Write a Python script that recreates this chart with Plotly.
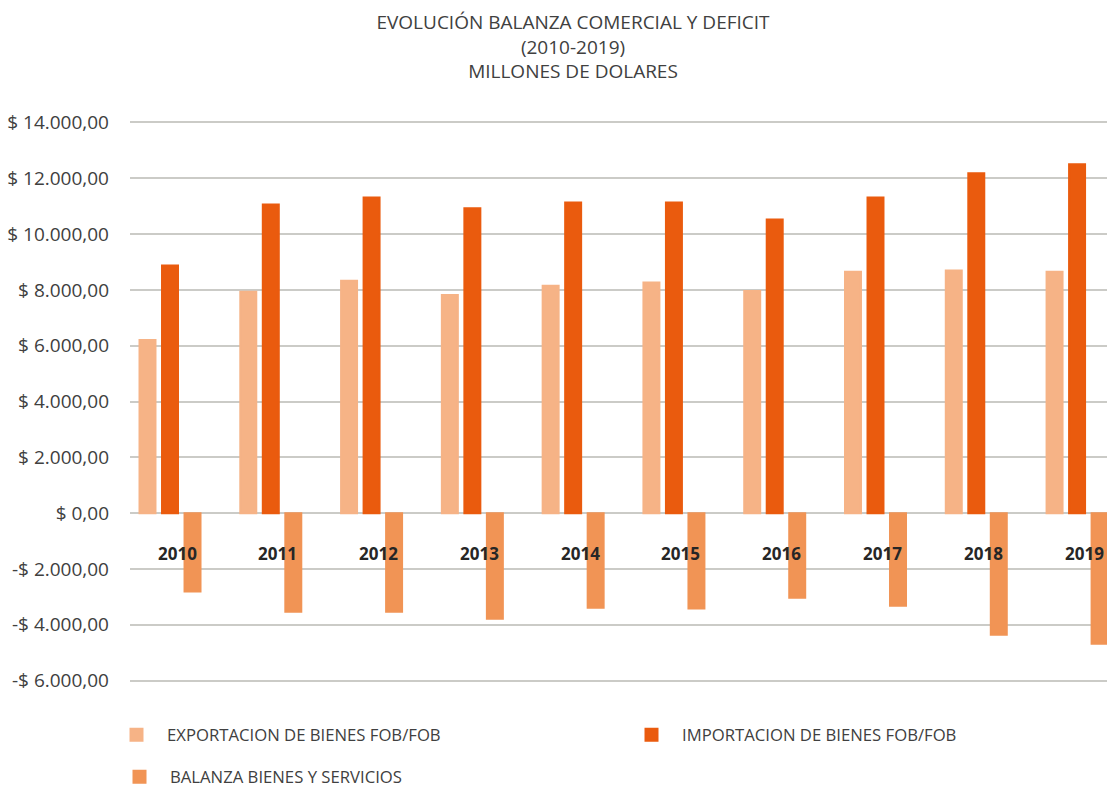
import plotly.graph_objects as go

# Trade balance, millions of US dollars
years = ["2010", "2011", "2012", "2013", "2014", "2015", "2016", "2017", "2018", "2019"]
exportaciones = [6200, 7930, 8330, 7820, 8150, 8260, 7960, 8650, 8690, 8650]
importaciones = [8870, 11060, 11310, 10920, 11130, 11130, 10520, 11310, 12180, 12500]
balanza = [-2810, -3530, -3530, -3780, -3390, -3420, -3030, -3320, -4360, -4680]

y_ticks = [-6000, -4000, -2000, 0, 2000, 4000, 6000, 8000, 10000, 12000, 14000]
y_tick_text = ["-$ 6.000,00", "-$ 4.000,00", "-$ 2.000,00", "$ 0,00", "$ 2.000,00",
               "$ 4.000,00", "$ 6.000,00", "$ 8.000,00", "$ 10.000,00", "$ 12.000,00",
               "$ 14.000,00"]

FONT = "Open Sans"
TEXT = "#404040"
GRID = "#CBCBC7"
C_EXP = "#F6B386"
C_IMP = "#EA5B0E"
C_BAL = "#F19455"

fig = go.Figure()
for vals, name, color, leg in [
    (exportaciones, "EXPORTACION DE BIENES FOB/FOB", C_EXP, "legend"),
    (importaciones, "IMPORTACION DE BIENES FOB/FOB", C_IMP, "legend3"),
    (balanza, "BALANZA BIENES Y SERVICIOS", C_BAL, "legend2"),
]:
    fig.add_trace(go.Bar(x=years, y=vals, name=name, legend=leg,
                         marker=dict(color=color, line=dict(color=color, width=2))))

# Year labels sit just under the zero line
annotations = [
    dict(x=i, y=0, xref="x", yref="y", text=yr, showarrow=False,
         xshift=7, yshift=-40, yanchor="middle",
         font=dict(family=FONT, size=17, color="#262626", weight="bold"))
    for i, yr in enumerate(years)
]

legend_common = dict(orientation="h", xref="container", yref="container",
                     xanchor="left", yanchor="middle", itemwidth=51,
                     font=dict(family=FONT, size=16.7, color=TEXT),
                     bgcolor="rgba(0,0,0,0)")

fig.update_layout(
    width=1107, height=789,
    margin=dict(l=130, r=0, t=121, b=107),
    paper_bgcolor="white", plot_bgcolor="white",
    font=dict(family=FONT, color=TEXT),
    barmode="group", bargap=0.33, bargroupgap=0.29,
    title=dict(
        text="EVOLUCIÓN BALANZA COMERCIAL Y DEFICIT<br>(2010-2019)<br>MILLONES DE DOLARES",
        x=573 / 1107, xanchor="center", xref="container",
        y=1 - 29 / 789, yanchor="top", yref="container",
        font=dict(family=FONT, size=19, color=TEXT),
    ),
    xaxis=dict(type="category", range=[-0.397, 9.297], showticklabels=False,
               showgrid=False, zeroline=False, showline=False, ticks=""),
    yaxis=dict(range=[-6050, 14050], tickvals=y_ticks, ticktext=y_tick_text,
               showgrid=True, gridcolor=GRID, gridwidth=2,
               zeroline=True, zerolinecolor=GRID, zerolinewidth=2,
               showline=False, ticks="", ticklabelstandoff=20,
               tickfont=dict(family=FONT, size=19, color=TEXT)),
    legend=dict(legend_common, x=106 / 1107, y=1 - 735 / 789),
    legend3=dict(legend_common, x=621 / 1107, y=1 - 735 / 789),
    legend2=dict(legend_common, x=109 / 1107, y=1 - 777 / 789),
    annotations=annotations,
    showlegend=True,
)

fig.write_html("out.html")
